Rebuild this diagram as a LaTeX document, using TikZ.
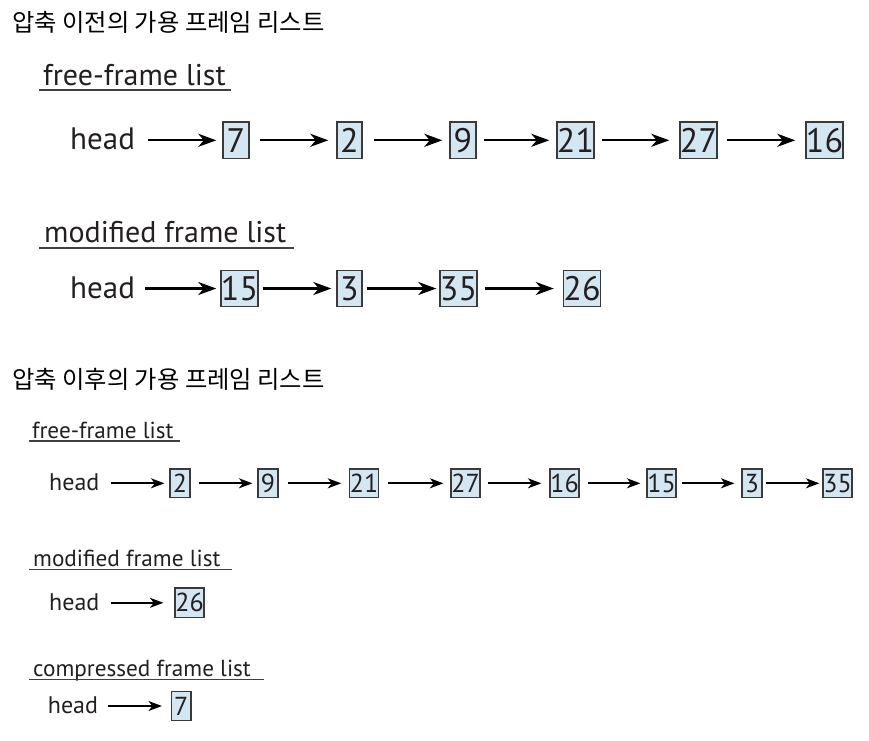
\documentclass[tikz,border=0pt]{standalone}
\usepackage{fontspec}
\setmainfont{PT Sans}
\newfontfamily\krfont{Noto Sans CJK KR}
\usetikzlibrary{arrows.meta}
\definecolor{txt}{HTML}{231F20}
\definecolor{boxfill}{HTML}{D3E6F2}
\definecolor{boxline}{HTML}{3A3A3A}
\definecolor{ulcol}{HTML}{404040}
\tikzset{
  krtitle/.style={inner sep=0, anchor=west, text=black, font=\krfont\fontsize{24.3}{28}\selectfont},
  biglabel/.style={inner sep=0, anchor=base west, text=txt, font=\fontsize{30}{36}\selectfont},
  smalllabel/.style={inner sep=0, anchor=base west, text=txt, font=\fontsize{23.2}{28}\selectfont},
  bighead/.style={inner sep=0, anchor=west, text=txt, font=\fontsize{31}{36}\selectfont},
  smallhead/.style={inner sep=0, anchor=west, text=txt, font=\fontsize{24}{28}\selectfont},
  bigbox/.style={draw=boxline, fill=boxfill, line width=1.4pt, inner sep=0, minimum height=36.5, text=txt, font=\fontsize{34}{36}\selectfont},
  smallbox/.style={draw=boxline, fill=boxfill, line width=1.2pt, inner sep=0, minimum height=28.5, text=txt, font=\fontsize{26}{28}\selectfont},
  bigarr/.style={draw=black, line width=2.1pt, -{Stealth[length=18pt,width=13pt,inset=5.5pt]}},
  smallarr/.style={draw=black, line width=1.7pt, -{Stealth[length=13.5pt,width=10pt,inset=4pt]}},
  uline/.style={draw=ulcol, line width=2pt},
}
\begin{document}
\begin{tikzpicture}[x=1pt,y=-1pt]
\useasboundingbox (0,0) rectangle (869,740);

% ---------- before compression ----------
\node[krtitle] (t1) at (12,22.5) {압축 이전의 가용 프레임 리스트};

\node[biglabel] (l1) at (43,85) {free-frame list};
\draw[uline] (39,89.5) -- (231,89.5);

\node[bigbox, minimum width=26] (a7)  at (236,140.3) {7};
\node[bigbox, minimum width=25] (a2)  at (349.5,140.3) {2};
\node[bigbox, minimum width=26] (a9)  at (463,140.3) {9};
\node[bigbox, minimum width=37] (a21) at (575.5,140.3) {21};
\node[bigbox, minimum width=37] (a27) at (698.5,140.3) {27};
\node[bigbox, minimum width=37] (a16) at (824.5,140.3) {16};
\node[bighead] (h1) at (70,139.3) {head};
\draw[bigarr, shorten <=13pt, shorten >=6pt] (h1.east |- a7) -- (a7.west);
\draw[bigarr, shorten <=10pt, shorten >=8pt] (a7) -- (a2);
\draw[bigarr, shorten <=11pt, shorten >=7pt] (a2) -- (a9);
\draw[bigarr, shorten <=7pt, shorten >=7pt] (a9) -- (a21);
\draw[bigarr, shorten <=7pt, shorten >=10pt] (a21) -- (a27);
\draw[bigarr, shorten <=9pt, shorten >=10pt] (a27) -- (a16);

\node[biglabel] (l2) at (44,242.5) {modified frame list};
\draw[uline] (39,247.5) -- (294,247.5);

\node[bigbox, minimum width=37] (b15) at (239.5,288.5) {15};
\node[bigbox, minimum width=25] (b3)  at (349.5,288.5) {3};
\node[bigbox, minimum width=37] (b35) at (458.5,288.5) {35};
\node[bigbox, minimum width=37] (b26) at (582,288.5) {26};
\node[bighead] (h2) at (70,287.5) {head};
\draw[bigarr, shorten <=10pt, shorten >=4pt] (h2.east |- b15) -- (b15.west);
\draw[bigarr, shorten <=4pt, shorten >=5pt] (b15) -- (b3);
\draw[bigarr, shorten <=4pt, shorten >=3pt] (b3) -- (b35);
\draw[bigarr, shorten <=7pt, shorten >=9pt] (b35) -- (b26);

% ---------- after compression ----------
\node[krtitle] (t2) at (12,379.5) {압축 이후의 가용 프레임 리스트};

\node[smalllabel] (l3) at (32,438) {free-frame list};
\draw[uline, line width=1.7pt] (29,441) -- (180,441);

\node[smallbox, minimum width=20] (c2)  at (180,483.3) {2};
\node[smallbox, minimum width=20] (c9)  at (268,483.3) {9};
\node[smallbox, minimum width=28] (c21) at (364,483.3) {21};
\node[smallbox, minimum width=29] (c27) at (465.5,483.3) {27};
\node[smallbox, minimum width=29] (c16) at (564.5,483.3) {16};
\node[smallbox, minimum width=29] (c15) at (661.5,483.3) {15};
\node[smallbox, minimum width=20] (c3)  at (752,483.3) {3};
\node[smallbox, minimum width=29] (c35) at (837.5,483.3) {35};
\node[smallhead] (h3) at (49,482.5) {head};
\draw[smallarr, shorten <=11pt, shorten >=5pt] (h3.east |- c2) -- (c2.west);
\draw[smallarr, shorten <=8pt, shorten >=5pt] (c2) -- (c9);
\draw[smallarr, shorten <=9pt, shorten >=8pt] (c9) -- (c21);
\draw[smallarr, shorten <=9pt, shorten >=7pt] (c21) -- (c27);
\draw[smallarr, shorten <=7pt, shorten >=8pt] (c27) -- (c16);
\draw[smallarr, shorten <=8pt, shorten >=6pt] (c16) -- (c15);
\draw[smallarr, shorten <=5pt, shorten >=7pt] (c15) -- (c3);
\draw[smallarr, shorten <=3pt, shorten >=3pt] (c3) -- (c35);

\node[smalllabel] (l4) at (33,566) {modified frame list};
\draw[uline, line width=1.7pt] (29,569.5) -- (232,569.5);
\node[smallbox, minimum width=29, minimum height=29.5] (d26) at (189.5,602.8) {26};
\node[smallhead] (h4) at (49,602) {head};
\draw[smallarr, shorten <=11pt, shorten >=11pt] (h4.east |- d26) -- (d26.west);

\node[smalllabel] (l5) at (33,676) {compressed frame list};
\draw[uline, line width=1.7pt] (29,679.5) -- (264,679.5);
\node[smallbox, minimum width=19.5, minimum height=29] (e7) at (181.3,706) {7};
\node[smallhead] (h5) at (47.7,705.5) {head};
\draw[smallarr, shorten <=10pt, shorten >=9pt] (h5.east |- e7) -- (e7.west);
\end{tikzpicture}
\end{document}
